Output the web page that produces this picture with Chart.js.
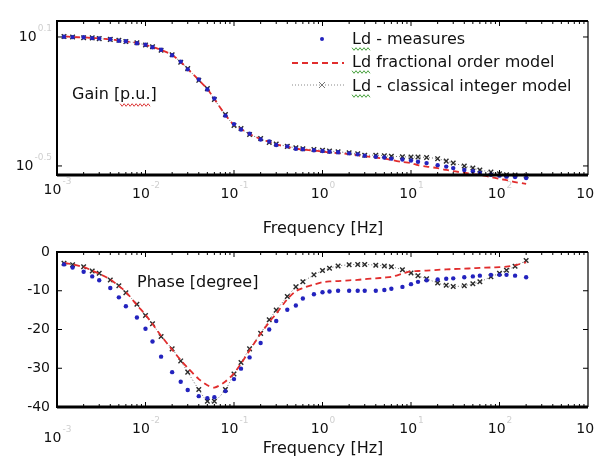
<!DOCTYPE html>
<html>
<head>
<meta charset="utf-8">
<script src="https://cdn.jsdelivr.net/npm/chart.js@4.4.0/dist/chart.umd.min.js"></script>
<style>
  html, body { margin: 0; padding: 0; background: #fff; }
  #wrap { position: relative; width: 595px; height: 463px; }
  #gainBox { position: absolute; left: 0; top: 0; width: 595px; height: 245px; }
  #phaseBox { position: absolute; left: 0; top: 232px; width: 595px; height: 231px; }
</style>
</head>
<body>
<div id="wrap">
  <div id="gainBox"><canvas id="gainChart"></canvas></div>
  <div id="phaseBox"><canvas id="phaseChart"></canvas></div>
</div>
<script>
// ============================================================
// Ld frequency response : measures vs models
// ============================================================

// frequencies [Hz]
const freqHz = [0.0012, 0.0015, 0.002, 0.0025, 0.003, 0.004, 0.005, 0.006, 0.008,
  0.01, 0.012, 0.015, 0.02, 0.025, 0.03, 0.04, 0.05, 0.06, 0.08,
  0.1, 0.12, 0.15, 0.2, 0.25, 0.3, 0.4, 0.5, 0.6, 0.8,
  1, 1.2, 1.5, 2, 2.5, 3, 4, 5, 6, 8,
  10, 12, 15, 20, 25, 30, 40, 50, 60, 80,
  100, 120, 150, 200];

// gain [p.u.]
const gainMeasures = [1.262, 1.257, 1.255, 1.244, 1.240, 1.228, 1.210, 1.203, 1.178, 1.158,
  1.128, 1.098, 1.035, 0.967, 0.890, 0.799, 0.717, 0.652, 0.542, 0.495,
  0.467, 0.447, 0.420, 0.411, 0.396, 0.390, 0.380, 0.378, 0.374, 0.371,
  0.368, 0.366, 0.362, 0.358, 0.353, 0.349, 0.346, 0.342, 0.339, 0.335,
  0.331, 0.326, 0.319, 0.314, 0.309, 0.303, 0.299, 0.293, 0.288, 0.285,
  0.282, 0.281, 0.278];
const gainFractional = [1.266, 1.259, 1.252, 1.246, 1.239, 1.226, 1.213, 1.200, 1.181, 1.156,
  1.131, 1.095, 1.038, 0.963, 0.894, 0.794, 0.721, 0.648, 0.546, 0.491,
  0.470, 0.445, 0.422, 0.409, 0.398, 0.388, 0.381, 0.377, 0.373, 0.369,
  0.365, 0.363, 0.359, 0.355, 0.351, 0.346, 0.342, 0.337, 0.330, 0.326,
  0.319, 0.314, 0.309, 0.303, 0.299, 0.294, 0.290, 0.287, 0.281, 0.275,
  0.272, 0.266, 0.261];
const gainInteger = [1.264, 1.260, 1.250, 1.247, 1.237, 1.227, 1.215, 1.198, 1.183, 1.154,
  1.133, 1.093, 1.040, 0.960, 0.897, 0.791, 0.724, 0.645, 0.549, 0.488,
  0.472, 0.443, 0.424, 0.407, 0.400, 0.390, 0.384, 0.380, 0.377, 0.374,
  0.371, 0.368, 0.364, 0.360, 0.355, 0.355, 0.353, 0.351, 0.349, 0.348,
  0.348, 0.346, 0.342, 0.333, 0.326, 0.316, 0.309, 0.303, 0.296, 0.291,
  0.288, 0.287, 0.284];

// phase [degree]
const phaseMeasures = [-3.2, -4.0, -5.1, -6.3, -7.3, -9.3, -11.7, -14.0, -16.9, -19.8,
  -23.1, -27.0, -31.0, -33.5, -35.6, -37.2, -37.7, -37.5, -35.9, -32.8,
  -30.1, -27.2, -23.5, -20.0, -17.8, -14.9, -13.8, -12.0, -10.9, -10.4,
  -10.2, -10.0, -10.0, -10.0, -10.0, -10.0, -9.8, -9.5, -9.0, -8.3,
  -7.7, -7.3, -7.1, -6.9, -6.8, -6.5, -6.3, -6.1, -5.9, -5.9,
  -5.9, -6.1, -6.5];
const phaseFractional = [-2.8, -3.2, -3.9, -4.8, -5.6, -7.1, -8.8, -10.3, -13.7, -16.2,
  -18.6, -21.6, -25.2, -27.9, -29.9, -32.8, -34.4, -35.0, -33.4, -31.3,
  -28.8, -25.4, -21.1, -18.1, -15.9, -12.2, -10.1, -9.3, -8.4, -7.8,
  -7.6, -7.5, -7.3, -7.2, -7.0, -6.8, -6.6, -6.4, -5.6, -5.0,
  -4.9, -4.8, -4.6, -4.5, -4.4, -4.3, -4.2, -4.1, -4.0, -3.9,
  -3.8, -3.4, -2.7];
const phaseInteger = [-2.9, -3.3, -3.8, -4.9, -5.5, -7.2, -8.7, -10.5, -13.5, -16.4,
  -18.5, -21.8, -25.0, -28.1, -31.0, -35.5, -38.5, -38.5, -35.5, -31.5,
  -28.5, -25.0, -21.0, -17.5, -15.0, -11.5, -9.0, -7.7, -5.9, -4.8,
  -4.2, -3.6, -3.3, -3.2, -3.2, -3.4, -3.6, -3.8, -4.6, -5.4,
  -6.1, -6.9, -8.0, -8.6, -8.9, -8.7, -8.2, -7.7, -6.4, -5.5,
  -4.7, -3.7, -2.2];

// axis ticks
const xDecades = [-3, -2, -1, 0, 1, 2, 3];
const gainTickExp = ['0.1', '-0.5'];
const phaseTicks = [0, -10, -20, -30, -40];
const seriesLabels = ['Ld - measures', 'Ld fractional order model', 'Ld - classical integer model'];

const FONT = '"DejaVu Sans", Verdana, sans-serif';
const TICK_FONT = '14px ' + FONT;
const SUP_FONT = '9px ' + FONT;
const LABEL_FONT = '16px ' + FONT;
const INK = '#111';
const SUP_INK = '#cfcfcf';

function pts(arr) { return freqHz.map((f, i) => ({ x: f, y: arr[i] })); }

function makeDatasets(meas, frac, integ, clip) {
  return [
    { label: seriesLabels[0], data: pts(meas), showLine: false, pointStyle: 'circle', pointRadius: 2.2,
      pointBackgroundColor: 'rgb(35,35,190)', pointBorderWidth: 0, clip },
    { label: seriesLabels[1], data: pts(frac), borderColor: 'rgb(225,45,45)', borderWidth: 1.8,
      borderDash: [6, 4], pointRadius: 0, tension: 0.3, clip },
    { label: seriesLabels[2], data: pts(integ), borderColor: 'rgba(80,80,80,0.8)', borderWidth: 1,
      borderDash: [1, 2], pointStyle: 'crossRot', pointRadius: 3.2, pointBorderColor: '#2a2a2a',
      pointBorderWidth: 1.4, pointBackgroundColor: '#2a2a2a', tension: 0.3, clip }
  ];
}

// --- drawing helpers -----------------------------------------
function line(ctx, x1, y1, x2, y2, w) {
  ctx.lineWidth = w; ctx.beginPath(); ctx.moveTo(x1, y1); ctx.lineTo(x2, y2); ctx.stroke();
}

function squiggle(ctx, x1, x2, y, color) {
  ctx.save(); ctx.strokeStyle = color; ctx.lineWidth = 1; ctx.beginPath();
  for (let x = x1, k = 0; x <= x2; x += 2, k++) {
    const yy = y + (k % 2 ? 1.3 : -1.3);
    if (k === 0) ctx.moveTo(x, yy); else ctx.lineTo(x, yy);
  }
  ctx.stroke(); ctx.restore();
}

// "10" + faint exponent, aligned 'center' or 'right' on x
function drawPow(ctx, x, y, sup, align) {
  ctx.font = TICK_FONT;
  const w = ctx.measureText('10').width;
  ctx.font = SUP_FONT;
  const s = ctx.measureText(sup).width;
  const x0 = align === 'right' ? x - (w + s) : x - (w + s) / 2;
  ctx.textAlign = 'left'; ctx.textBaseline = 'middle';
  ctx.font = TICK_FONT; ctx.fillStyle = INK; ctx.fillText('10', x0, y);
  ctx.font = SUP_FONT; ctx.fillStyle = SUP_INK; ctx.fillText(sup, x0 + w + 1, y - 8);
}

function drawFrame(chart, yTickPixels) {
  const { ctx, chartArea: a, scales } = chart;
  ctx.save();
  ctx.strokeStyle = '#000';
  line(ctx, a.left, a.top, a.right, a.top, 2);
  line(ctx, a.right, a.top, a.right, a.bottom, 1.2);
  line(ctx, a.left, a.top - 1, a.left, a.bottom + 1, 2);
  line(ctx, a.left, a.bottom, a.right, a.bottom, 3);
  // log x ticks, bottom and top
  for (let d = -3; d < 3; d++) {
    for (let k = 1; k <= 9; k++) {
      const px = scales.x.getPixelForValue(k * Math.pow(10, d));
      const len = k === 1 ? 5 : 3;
      line(ctx, px, a.bottom, px, a.bottom - len, 1);
      line(ctx, px, a.top, px, a.top + len, 1);
    }
  }
  yTickPixels.forEach(py => {
    line(ctx, a.left, py, a.left + 5, py, 1);
    line(ctx, a.right, py, a.right - 5, py, 1);
  });
  ctx.restore();
}

function drawXLabels(chart, yFirst, yRest) {
  const { ctx, scales } = chart;
  ctx.save();
  xDecades.forEach((d, i) => {
    drawPow(ctx, scales.x.getPixelForValue(Math.pow(10, d)), i === 0 ? yFirst : yRest, String(d), 'center');
  });
  ctx.restore();
}

function drawTitle(ctx, text, x, y, align) {
  ctx.save();
  ctx.font = LABEL_FONT; ctx.fillStyle = INK; ctx.textAlign = align; ctx.textBaseline = 'middle';
  ctx.fillText(text, x, y);
  ctx.restore();
}

function drawLegend(chart) {
  const ctx = chart.ctx;
  const ds = chart.data.datasets;
  const rows = [40, 63, 87];
  ctx.save();
  // measures: single dot
  ctx.fillStyle = ds[0].pointBackgroundColor;
  ctx.beginPath(); ctx.arc(322, rows[0] - 1, 2, 0, Math.PI * 2); ctx.fill();
  // fractional: dashed red
  ctx.strokeStyle = ds[1].borderColor; ctx.setLineDash([6, 4]);
  line(ctx, 292, rows[1], 344, rows[1], 1.8);
  // integer: dotted grey with marker
  ctx.strokeStyle = '#888'; ctx.setLineDash([1, 2]);
  line(ctx, 292, rows[2] - 2, 344, rows[2] - 2, 1);
  ctx.setLineDash([]);
  ctx.strokeStyle = '#777'; ctx.lineWidth = 1;
  ctx.beginPath(); ctx.moveTo(319, rows[2] - 5); ctx.lineTo(325, rows[2] + 1);
  ctx.moveTo(325, rows[2] - 5); ctx.lineTo(319, rows[2] + 1); ctx.stroke();
  ctx.font = LABEL_FONT; ctx.fillStyle = INK; ctx.textAlign = 'left'; ctx.textBaseline = 'middle';
  const ldW = ctx.measureText('Ld').width;
  ds.forEach((d, i) => {
    ctx.fillText(d.label, 352, rows[i]);
    squiggle(ctx, 352, 352 + ldW, rows[i] + 9, 'rgb(70,160,60)');
  });
  ctx.restore();
}

// --- plugins ---------------------------------------------------
const gainAxes = {
  id: 'gainAxes',
  afterDraw(chart) {
    const { ctx, scales } = chart;
    const yPix = gainTickExp.map(e => scales.y.getPixelForValue(Math.pow(10, parseFloat(e))));
    drawFrame(chart, yPix);
    drawXLabels(chart, 190, 194);
    ctx.save();
    yPix.forEach((py, i) => drawPow(ctx, 51, py, gainTickExp[i], 'right'));
    ctx.restore();
    drawTitle(ctx, 'Frequency [Hz]', 323, 229, 'center');
    drawTitle(ctx, 'Gain [p.u.]', 72, 95, 'left');
    ctx.save(); ctx.font = LABEL_FONT;
    const sx = 72 + ctx.measureText('Gain [').width;
    const sw = ctx.measureText('p.u.').width;
    ctx.restore();
    squiggle(ctx, sx, sx + sw, 105, 'rgb(220,60,60)');
    drawLegend(chart);
  }
};

const phaseAxes = {
  id: 'phaseAxes',
  afterDraw(chart) {
    const { ctx, scales } = chart;
    const yPix = phaseTicks.map(v => scales.y.getPixelForValue(v));
    drawFrame(chart, yPix);
    drawXLabels(chart, 206, 197);
    ctx.save();
    ctx.font = TICK_FONT; ctx.fillStyle = INK; ctx.textAlign = 'right'; ctx.textBaseline = 'middle';
    yPix.forEach((py, i) => ctx.fillText(String(phaseTicks[i]), 50, py));
    ctx.restore();
    drawTitle(ctx, 'Frequency [Hz]', 323, 217, 'center');
    drawTitle(ctx, 'Phase [degree]', 137, 51, 'left');
  }
};

function baseOptions(padding, yScale) {
  return {
    responsive: true, maintainAspectRatio: false, animation: false, devicePixelRatio: 1,
    layout: { padding },
    plugins: { legend: { display: false }, tooltip: { enabled: false } },
    scales: {
      x: { type: 'logarithmic', min: 0.001, max: 1000, display: false },
      y: yScale
    }
  };
}

new Chart(document.getElementById('gainChart'), {
  type: 'line',
  data: { datasets: makeDatasets(gainMeasures, gainFractional, gainInteger, false) },
  options: baseOptions({ left: 57, right: 7, top: 21, bottom: 70 },
    { type: 'logarithmic', min: 0.287, max: 1.494, display: false }),
  plugins: [gainAxes]
});

new Chart(document.getElementById('phaseChart'), {
  type: 'line',
  data: { datasets: makeDatasets(phaseMeasures, phaseFractional, phaseInteger, true) },
  options: baseOptions({ left: 57, right: 7, top: 20, bottom: 56 },
    { type: 'linear', min: -40, max: 0, display: false }),
  plugins: [phaseAxes]
});
</script>
</body>
</html>
